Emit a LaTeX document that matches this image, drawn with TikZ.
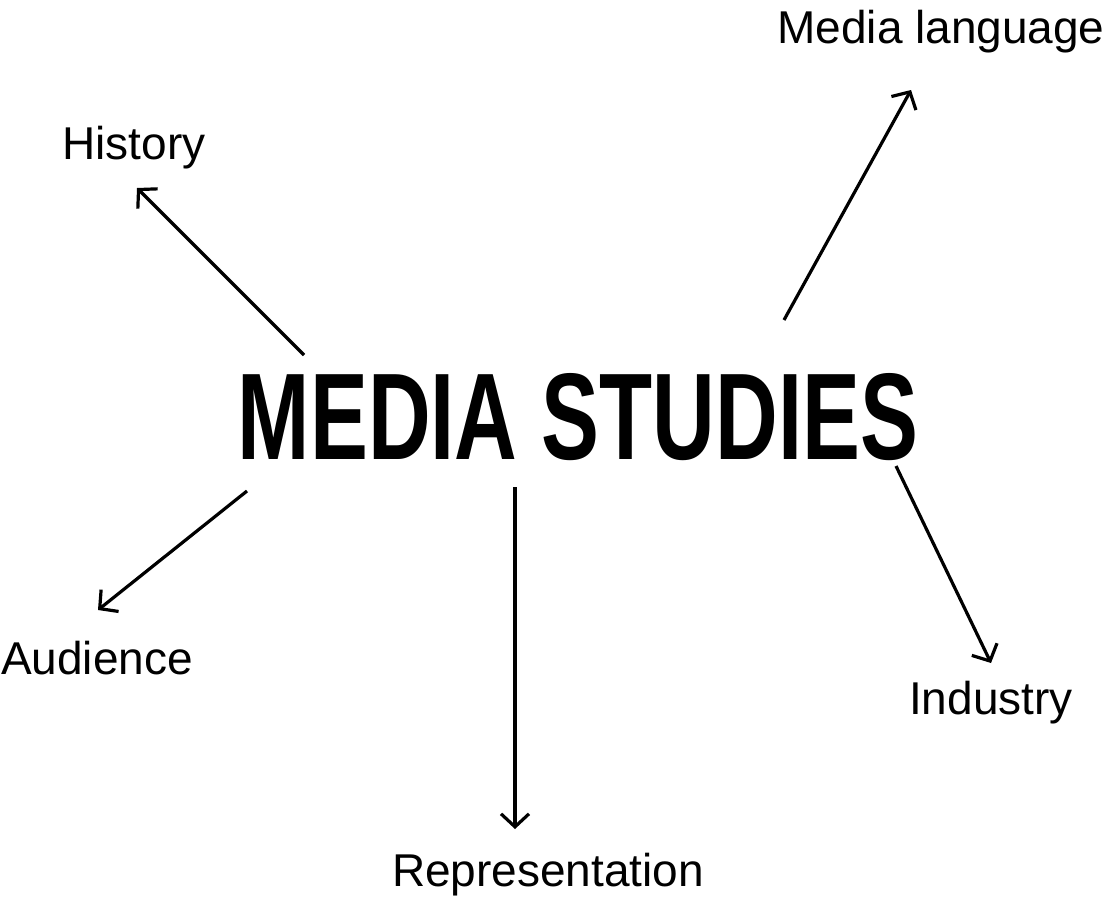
\documentclass[tikz,border=0pt]{standalone}
\usepackage{fontspec}
\setmainfont{Liberation Sans}
\usetikzlibrary{arrows.meta}
\tikzset{
  lbl/.style={font=\fontsize{46}{50}\selectfont, inner sep=0pt, anchor=center},
  conn/.style={line width=3.2pt, -{Straight Barb[length=13pt, width=28pt, line width=3.2pt]}}
}
\begin{document}
\begin{tikzpicture}[x=1pt, y=-1pt]
\useasboundingbox[fill=white] (0,0) rectangle (1108,899);
\node[inner sep=0pt] (title) at (578,417) {\resizebox{680pt}{86pt}{\bfseries MEDIA STUDIES}};
\node[lbl] (hist) at (134,148) {History};
\node[lbl] (mlang) at (941,32) {Media language};
\node[lbl] (aud) at (97,658) {Audience};
\node[lbl] (rep) at (548,875) {Representation};
\node[lbl] (ind) at (991,703) {Industry};
\coordinate (hs) at (304,355); \coordinate (he) at (137,188);
\coordinate (ms) at (784,320); \coordinate (me) at (911,90);
\coordinate (as) at (247,491); \coordinate (ae) at (98,610);
\coordinate (rs) at (515,487); \coordinate (re) at (515,829);
\coordinate (is) at (896,466); \coordinate (ie) at (991,663);
\draw[conn] (hs) -- (he);
\draw[conn] (ms) -- (me);
\draw[conn] (as) -- (ae);
\draw[conn] (rs) -- (re);
\draw[conn] (is) -- (ie);
\end{tikzpicture}
\end{document}
